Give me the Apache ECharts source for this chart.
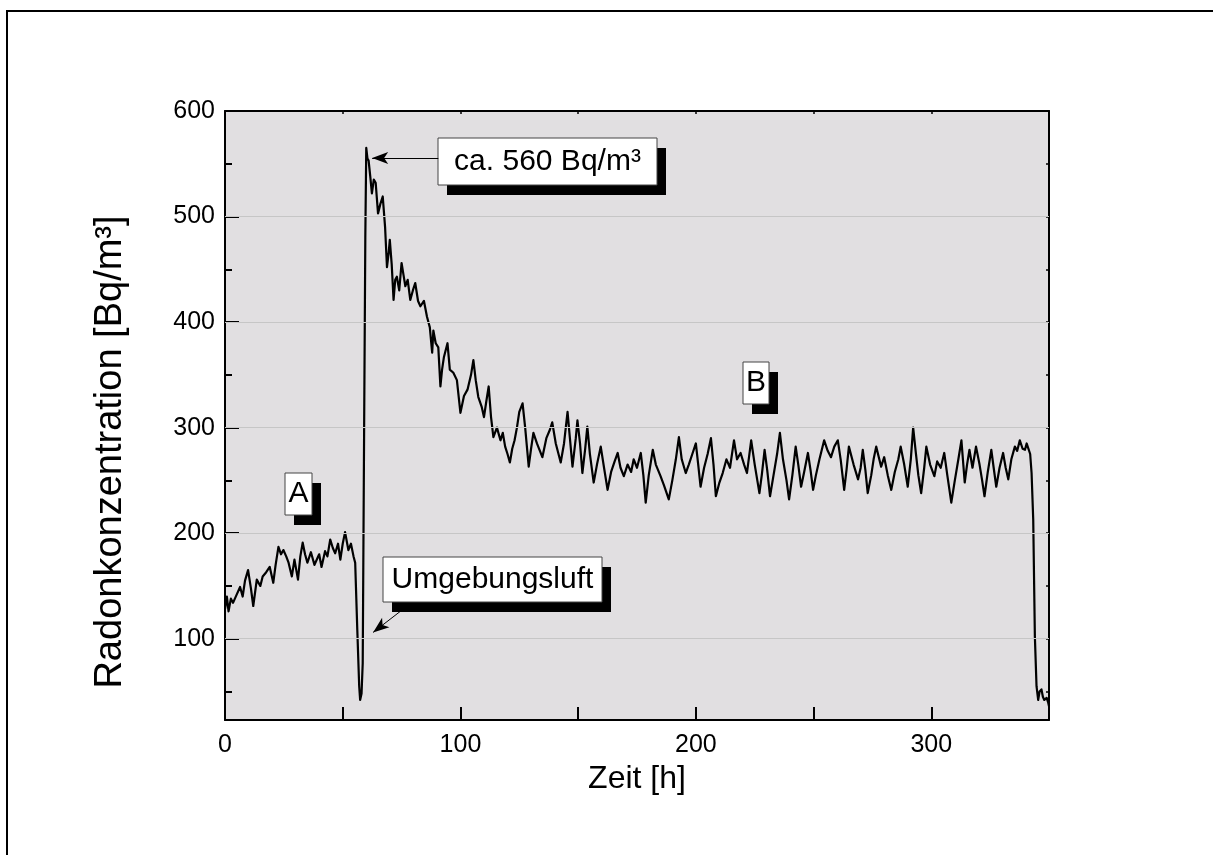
<!DOCTYPE html>
<html>
<head>
<meta charset="utf-8">
<script src="https://cdn.jsdelivr.net/npm/echarts@6/dist/echarts.min.js"></script>
<style>html,body{margin:0;padding:0;background:#fff}#c{width:1213px;height:855px}</style>
</head>
<body>
<div id="c"></div>
<script>
// ---- data ----
const times = [0,0.8,1.5,2.5,3.4,5,6.4,7.5,8.5,9.8,11,12,13.5,15,16,17.5,19,20.5,21.5,22.7,23.8,24.8,26,27,28.4,29.5,31,32,33,34,35,36.5,38,39,40,41,42.5,43.5,44.7,45.8,46.8,48,49,50,51,52.4,53.5,54.6,55.3,56.2,57,57.4,58,58.5,59.1,59.6,60,60.5,61,61.7,62.4,63.2,64,65,66,67,68,68.8,69.5,70,70.8,71.6,72.3,73,74,75,75.8,76.6,77.6,78.7,79.8,80.8,82,83,84.5,85.8,87,88,88.5,89.5,90.6,91.5,92.2,93,94.5,95.5,97,98.5,100,101.5,103,104.5,105.5,106.5,107.6,109,110,111,112,113,114,115.5,117,118,119,120,121,122,123,124,125,126.4,127.5,129,130,131,132.5,134.8,136.5,138,139,140.5,142.6,144,145.5,146.5,147.6,149,149.7,150.8,151.8,153,153.9,155,156.6,158,159.6,161,162.5,164,165.5,166.8,168,169.4,171,172.5,173.6,175,176.6,177.7,178.7,180,181.7,183,185,186.5,188.5,190,191.5,192.8,194,195.7,197,198.5,200,201,202,203.5,205,206.4,207.5,208.5,210,211.4,213,214.5,216.2,217.5,219,220.5,221.7,223.5,225,227,228,229.2,230.3,231.5,233,234.5,235.7,237,238.5,239.6,241,242.4,243.5,244.7,246,247.6,248.7,249.8,251,252.5,254.5,256,257.4,258.8,260.3,261.5,263,264,265,267,268.9,270,270.9,272,273,274.5,275.5,276.6,278.7,280,281.5,283,284.5,286,287,288.5,290,291.3,292.3,293.5,294.5,295.7,297,297.9,299.5,301.3,302.5,304,305.5,306.8,308.5,310,311.5,312.8,314.2,315.2,316.2,317.5,319,320.5,321.6,322.6,324,325.5,326.5,327.6,329,330.5,331.6,332.7,334,335.5,336.5,337.6,338.8,339.8,340.5,341.2,342,342.6,343.3,344,344.7,345.4,346,346.8,347.4,348,349,349.6,350];
const values = [128,140,126,138,134,142,149,140,155,165,148,131,156,150,159,163,168,153,170,187,180,184,178,172,159,175,156,178,191,180,172,182,170,175,180,168,183,178,194,186,181,190,175,190,201,184,190,178,172,108,55,42,48,77,300,480,565,555,553,538,522,535,532,503,512,519,490,452,465,478,455,421,440,443,430,456,445,434,440,421,430,437,420,415,420,405,395,371,392,380,376,339,355,367,380,355,352,345,314,330,336,350,364,345,329,320,310,325,339,310,291,300,288,295,282,275,267,280,288,300,315,323,300,263,280,295,285,272,290,298,305,285,267,285,315,290,263,290,307,285,257,280,301,275,248,265,282,262,241,258,268,276,262,254,265,258,270,262,276,255,229,255,279,265,254,245,232,250,270,291,270,257,265,275,285,265,244,262,275,290,265,235,248,257,270,262,288,270,276,265,257,288,265,238,255,279,260,235,255,275,295,270,250,232,255,282,265,244,258,276,260,241,255,270,288,278,272,282,288,270,241,260,282,265,251,262,279,260,238,255,270,282,263,272,255,241,258,270,282,265,244,270,300,275,255,238,262,282,265,254,268,262,276,255,229,250,270,288,248,265,279,262,282,265,250,235,258,279,262,244,262,276,262,251,270,282,278,288,280,279,285,285,275,257,213,102,55,42,50,52,45,42,44,40,36];
const xLabels = [0,100,200,300];
const yMajor = [100,200,300,400,500,600];
const yMinor = [50,150,250,350,450,550];
const gridValues = [100,200,300,400,500];
const yMin = 23, yMax = 600, xMin = 0, xMax = 350;
const peakArrow = [[90.6,555.5],[62.5,555.5]];
const airArrow = [[74.5,126],[62.9,106]];

const FONT = "'Liberation Sans', Arial, Helvetica, sans-serif";
const NARROW = "'Liberation Sans Narrow', 'Arial Narrow', 'Liberation Sans', Arial, sans-serif";
const chart = echarts.init(document.getElementById('c'), null, {renderer:'canvas'});

function box(x, y, w, h, text, fs) {
  return {
    type: 'group', z: 100,
    children: [
      {type:'rect', shape:{x:x+9, y:y+10, width:w, height:h}, style:{fill:'#000'}},
      {type:'rect', shape:{x:x, y:y, width:w, height:h}, style:{fill:'#fff', stroke:'#444', lineWidth:1}},
      {type:'text', x:x+w/2, y:y+h/2, style:{text:text, font: fs+'px '+FONT, fill:'#000', align:'center', verticalAlign:'middle'}}
    ]
  };
}

const option = {
  animation: false,
  backgroundColor: '#fff',
  grid: {left:225, right:164, top:111, bottom:135, show:true, backgroundColor:'#e1dfe1', borderWidth:0},
  xAxis: [
    {type:'value', position:'bottom', min:xMin, max:xMax, interval:50,
     axisLine:{show:true, onZero:false, lineStyle:{color:'#000', width:2}},
     axisTick:{show:true, inside:true, length:13, lineStyle:{color:'#000', width:2}},
     axisLabel:{show:true, margin:13, color:'#000', fontSize:25, fontFamily:NARROW,
       formatter: v => xLabels.indexOf(v) >= 0 ? String(v) : ''},
     splitLine:{show:false},
     name:'Zeit [h]', nameLocation:'middle', nameGap:32,
     nameTextStyle:{color:'#000', fontSize:32, fontFamily:FONT}},
    {type:'value', position:'top', min:xMin, max:xMax, interval:50,
     axisLine:{show:true, onZero:false, lineStyle:{color:'#000', width:2}},
     axisTick:{show:true, inside:true, length:3, lineStyle:{color:'#000', width:1.5}},
     axisLabel:{show:false}, splitLine:{show:false}}
  ],
  yAxis: [
    {type:'value', position:'left', min:yMin, max:yMax,
     axisLine:{show:true, onZero:false, lineStyle:{color:'#000', width:2}},
     axisTick:{show:true, inside:true, length:14, customValues:yMajor, lineStyle:{color:'#000', width:2}},
     axisLabel:{show:true, margin:10, customValues:yMajor, color:'#000', fontSize:25, fontFamily:NARROW},
     splitLine:{show:false}},
    {type:'value', position:'left', min:yMin, max:yMax,
     axisLine:{show:false},
     axisTick:{show:true, inside:true, length:7, customValues:yMinor, lineStyle:{color:'#000', width:2}},
     axisLabel:{show:false}, splitLine:{show:false}},
    {type:'value', position:'right', min:yMin, max:yMax,
     axisLine:{show:true, onZero:false, lineStyle:{color:'#000', width:2}},
     axisTick:{show:true, inside:true, length:3, customValues:yMinor.concat(yMajor), lineStyle:{color:'#000', width:1.5}},
     axisLabel:{show:false}, splitLine:{show:false}}
  ],
  series: [
    {type:'line', data:[], xAxisIndex:0, yAxisIndex:0, z:1, silent:true,
     markLine:{silent:true, symbol:['none','none'], label:{show:false},
       lineStyle:{color:'#c6c6c6', width:1.2, type:'solid'},
       data: gridValues.map(v => ({yAxis:v}))}},
    {type:'line', xAxisIndex:0, yAxisIndex:0, z:3, showSymbol:false, symbol:'none',
     lineStyle:{color:'#000', width:2.2, join:'round'},
     data: times.map((t,i) => [t, values[i]]),
     markLine:{silent:true, symbol:['none','arrow'], symbolSize:[9,16], label:{show:false},
       lineStyle:{color:'#000', width:1, type:'solid'},
       data:[
         [{coord:peakArrow[0]},{coord:peakArrow[1]}],
         [{coord:airArrow[0]},{coord:airArrow[1]}]
       ]}}
  ],
  graphic: [
    {type:'rect', z:0, shape:{x:7, y:11, width:1240, height:900}, style:{fill:'none', stroke:'#000', lineWidth:2}},
    {type:'text', z:10, x:111, y:452, rotation:Math.PI/2,
     style:{text:'Radonkonzentration [Bq/m³]', font:'38px '+FONT, fill:'#000', align:'center', verticalAlign:'middle'}},
    box(438, 138, 219, 47, 'ca. 560 Bq/m³', 30),
    box(383, 557, 219, 45, 'Umgebungsluft', 30),
    box(285, 473, 27, 42, 'A', 30),
    box(743, 362, 26, 42, 'B', 30)
  ]
};
chart.setOption(option);
</script>
</body>
</html>
